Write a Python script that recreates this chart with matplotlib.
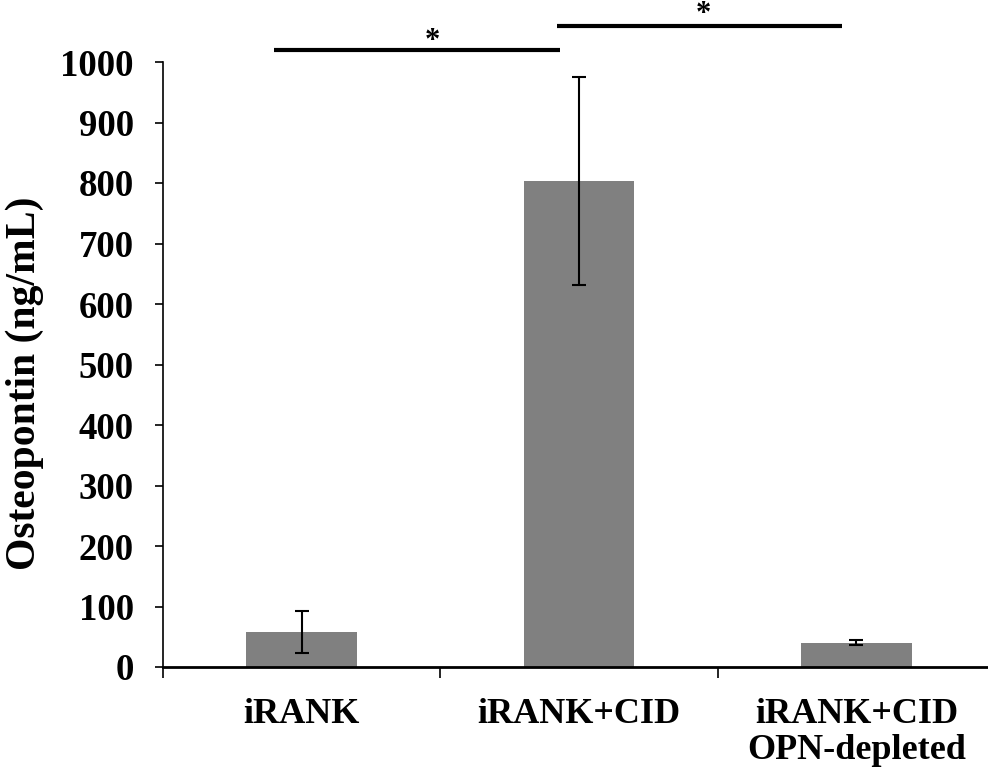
import matplotlib
matplotlib.use("Agg")
import matplotlib.pyplot as plt
import numpy as np

categories = ["iRANK", "iRANK+CID", "iRANK+CID\nOPN-depleted"]
means = [58, 803, 40]
errors = [35, 172, 4]
y_ticks = [0, 100, 200, 300, 400, 500, 600, 700, 800, 900, 1000]

# significance brackets: (start, end, line height, star x, star baseline)
sig_lines = [(-0.10, 0.93, 1020, 0.47, 1022), (0.92, 1.95, 1060, 1.45, 1066)]
sig_text = ["*", "*"]

plt.rcParams["font.family"] = ["Liberation Serif", "DejaVu Serif"]
plt.rcParams["font.weight"] = "bold"

fig = plt.figure(figsize=(9.88, 7.76), dpi=100)
ax = fig.add_axes([163 / 988, 1 - 667 / 776, 832 / 988, 605 / 776])

x = np.arange(len(categories))
ax.bar(x, means, width=0.4, color="#808080", zorder=2)
ax.errorbar(x, means, yerr=errors, fmt="none", ecolor="black",
            elinewidth=1.5, capsize=5, capthick=1.5, zorder=3)

ax.set_xlim(-0.5, 2.5)
ax.set_ylim(0, 1000)
ax.set_yticks(y_ticks)
ax.set_yticklabels([str(t) for t in y_ticks], fontsize=26.5, fontweight="bold")

ax.set_xticks(x)
ax.set_xticklabels(categories, fontsize=26, fontweight="bold", linespacing=1.15)
ax.set_xticks([-0.5, 0.5, 1.5, 2.5], minor=True)
ax.tick_params(axis="x", which="major", length=0, pad=22)
ax.tick_params(axis="x", which="minor", length=8, width=1.2, direction="out")
ax.tick_params(axis="y", length=6, width=1.2, direction="out", pad=15)

for side in ["top", "right"]:
    ax.spines[side].set_visible(False)
ax.spines["left"].set_linewidth(1.2)
ax.spines["bottom"].set_linewidth(2.0)

ax.set_ylabel("Osteopontin (ng/mL)", fontsize=30, fontweight="bold")
ax.yaxis.set_label_coords(-0.143, 0.469)

for (x0, x1, h, sx, sy), s in zip(sig_lines, sig_text):
    ax.plot([x0, x1], [h, h], color="black", lw=3, clip_on=False,
            solid_capstyle="butt")
    ax.text(sx, sy, s, ha="center", va="baseline",
            fontsize=22, fontweight="bold", clip_on=False)

fig.savefig("out.png", dpi=100)
